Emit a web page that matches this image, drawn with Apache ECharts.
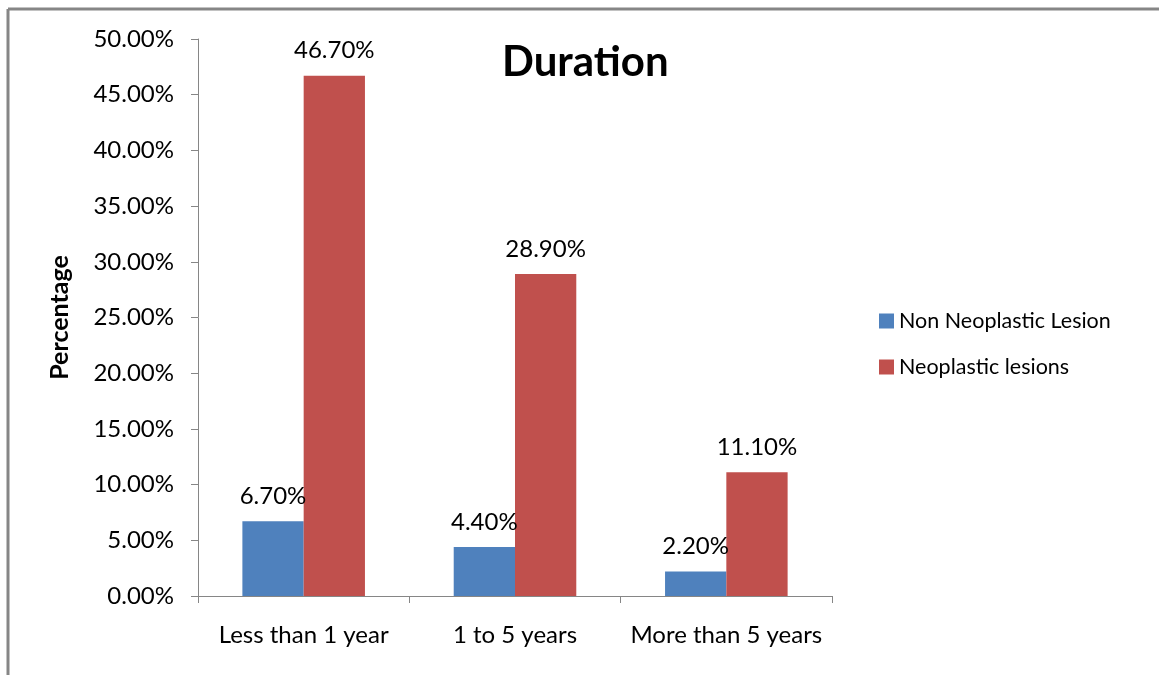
<!DOCTYPE html>
<html>
<head>
<meta charset="utf-8">
<script src="https://cdn.jsdelivr.net/npm/echarts@6/dist/echarts.min.js"></script>
<style>
    html, body { margin: 0; padding: 0; background: #fff; }
    #chart { width: 1159px; height: 675px; }
</style>
</head>
<body>
<div id="chart"></div>
<script>
    var categories = ['Less than 1 year', '1 to 5 years', 'More than 5 years'];
    var nonNeoplastic = [6.7, 4.4, 2.2];
    var neoplastic = [46.7, 28.9, 11.1];
    var seriesNames = ['Non Neoplastic Lesion', 'Neoplastic lesions'];

    var font = 'Lato';
    var pct = function (v) {
        return Number(v).toFixed(2) + '%';
    };

    var myChart = echarts.init(document.getElementById('chart'));
    var option = {
        animation: false,
        textStyle: {fontFamily: font},
        title: {
            text: 'Duration',
            left: 497,
            top: 36,
            textStyle: {fontFamily: font, fontSize: 42, fontWeight: 'bold', color: '#000'}
        },
        // frame of the chart (only top and left edges are visible)
        graphic: [
            {type: 'line', shape: {x1: 8, y1: 9, x2: 1159, y2: 9}, style: {stroke: '#868686', lineWidth: 3}},
            {type: 'line', shape: {x1: 8, y1: 9, x2: 8, y2: 675}, style: {stroke: '#868686', lineWidth: 3}}
        ],
        legend: {
            orient: 'vertical',
            left: 874,
            top: 305,
            itemWidth: 15,
            itemHeight: 15,
            itemGap: 24,
            icon: 'rect',
            textStyle: {fontFamily: font, fontSize: 21.5, color: '#000'},
            data: seriesNames
        },
        grid: {
            left: 198,
            right: 327,
            top: 39,
            bottom: 79,
            containLabel: false
        },
        xAxis: {
            type: 'category',
            data: categories,
            axisLine: {lineStyle: {color: '#868686', width: 1}},
            axisTick: {show: true, length: 7, lineStyle: {color: '#868686'}},
            axisLabel: {
                interval: 0,
                margin: 27,
                fontFamily: font,
                fontSize: 24,
                color: '#000'
            },
            splitLine: {show: false}
        },
        yAxis: {
            type: 'value',
            min: 0,
            max: 50,
            interval: 5,
            name: 'Percentage',
            nameLocation: 'middle',
            nameRotate: 90,
            nameGap: 126,
            nameTextStyle: {fontFamily: font, fontSize: 25, fontWeight: 'bold', color: '#000'},
            axisLine: {show: true, lineStyle: {color: '#868686', width: 1}},
            axisTick: {show: true, length: 7, lineStyle: {color: '#868686'}},
            axisLabel: {
                margin: 24,
                fontFamily: font,
                fontSize: 24,
                color: '#000',
                formatter: pct
            },
            splitLine: {show: false}
        },
        series: [
            {
                name: seriesNames[0],
                type: 'bar',
                data: nonNeoplastic,
                barGap: 0,
                barCategoryGap: '42%',
                itemStyle: {color: '#4F81BD'},
                label: {
                    show: true,
                    position: 'top',
                    distance: 13,
                    fontFamily: font,
                    fontSize: 24,
                    color: '#000',
                    formatter: function (p) { return pct(p.value); }
                }
            },
            {
                name: seriesNames[1],
                type: 'bar',
                data: neoplastic,
                barGap: 0,
                barCategoryGap: '42%',
                itemStyle: {color: '#C0504D'},
                label: {
                    show: true,
                    position: 'top',
                    distance: 13,
                    fontFamily: font,
                    fontSize: 24,
                    color: '#000',
                    formatter: function (p) { return pct(p.value); }
                }
            }
        ]
    };
    myChart.setOption(option);
</script>
</body>
</html>
